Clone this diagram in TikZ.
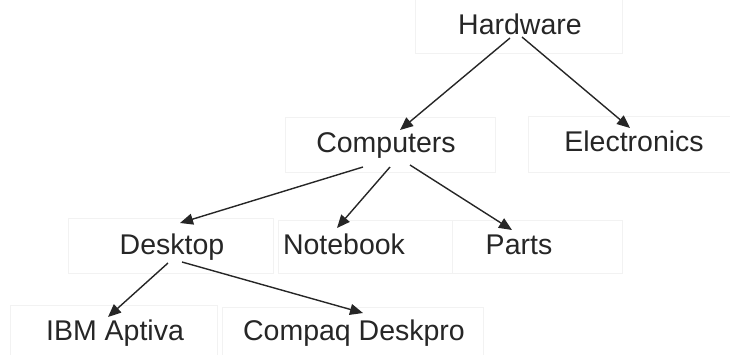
\documentclass[tikz,border=0pt]{standalone}
\usepackage{fontspec}
\setmainfont{Liberation Sans}
\usetikzlibrary{arrows.meta,calc}
\definecolor{ink}{HTML}{262626}
\definecolor{faint}{HTML}{F2F2F2}
\tikzset{
  lbl/.style={inner sep=0pt, anchor=base, text=ink, font=\fontsize{28.5}{34}\selectfont},
  boxst/.style={draw=faint, line width=0.7pt, inner sep=0pt, anchor=north west},
  conn/.style={draw=ink, line width=1.4pt, -{Triangle[length=13pt,width=11pt]}}
}
\begin{document}
\begin{tikzpicture}[x=1pt,y=-1pt]
\useasboundingbox (0,0) rectangle (730,354);
% faint boxes
\node[boxst, minimum width=207pt, minimum height=55pt] (bhw) at (415,-2) {};
\node[boxst, minimum width=210pt, minimum height=55pt] (bco) at (285,117) {};
\node[boxst, minimum width=215pt, minimum height=56pt] (bel) at (528,116) {};
\node[boxst, minimum width=205pt, minimum height=55pt] (bde) at (68,218) {};
\node[boxst, minimum width=174pt, minimum height=53pt] (bno) at (278,220) {};
\node[boxst, minimum width=170pt, minimum height=53pt] (bpa) at (452,220) {};
\node[boxst, minimum width=207pt, minimum height=55pt] (bib) at (10,305) {};
\node[boxst, minimum width=261pt, minimum height=55pt] (bcp) at (222,307) {};
% labels
\node[lbl] (hw) at (520,34) {Hardware};
\node[lbl] (co) at (386,152) {Computers};
\node[lbl] (el) at (634,151) {Electronics};
\node[lbl] (de) at (172,254) {Desktop};
\node[lbl] (no) at (344,254) {Notebook};
\node[lbl] (pa) at (519,254) {Parts};
\node[lbl] (ib) at (115,340) {IBM Aptiva};
\node[lbl] (cp) at (354,340) {Compaq Deskpro};
% connectors
\draw[conn] ([shift={(-10,4)}]hw.base) -- ([shift={(14,-22)}]co.base);
\draw[conn] ([shift={(2,3)}]hw.base) -- ([shift={(-4,-23)}]el.base);
\draw[conn] ([shift={(-23,15)}]co.base) -- ([shift={(8,-31)}]de.base);
\draw[conn] ([shift={(4,15)}]co.base) -- ([shift={(-7,-26)}]no.base);
\draw[conn] ([shift={(24,13)}]co.base) -- ([shift={(-7,-24)}]pa.base);
\draw[conn] ([shift={(-4,9)}]de.base) -- ([shift={(-7,-23)}]ib.base);
\draw[conn] ([shift={(10,8)}]de.base) -- ([shift={(9,-27)}]cp.base);
\end{tikzpicture}
\end{document}
